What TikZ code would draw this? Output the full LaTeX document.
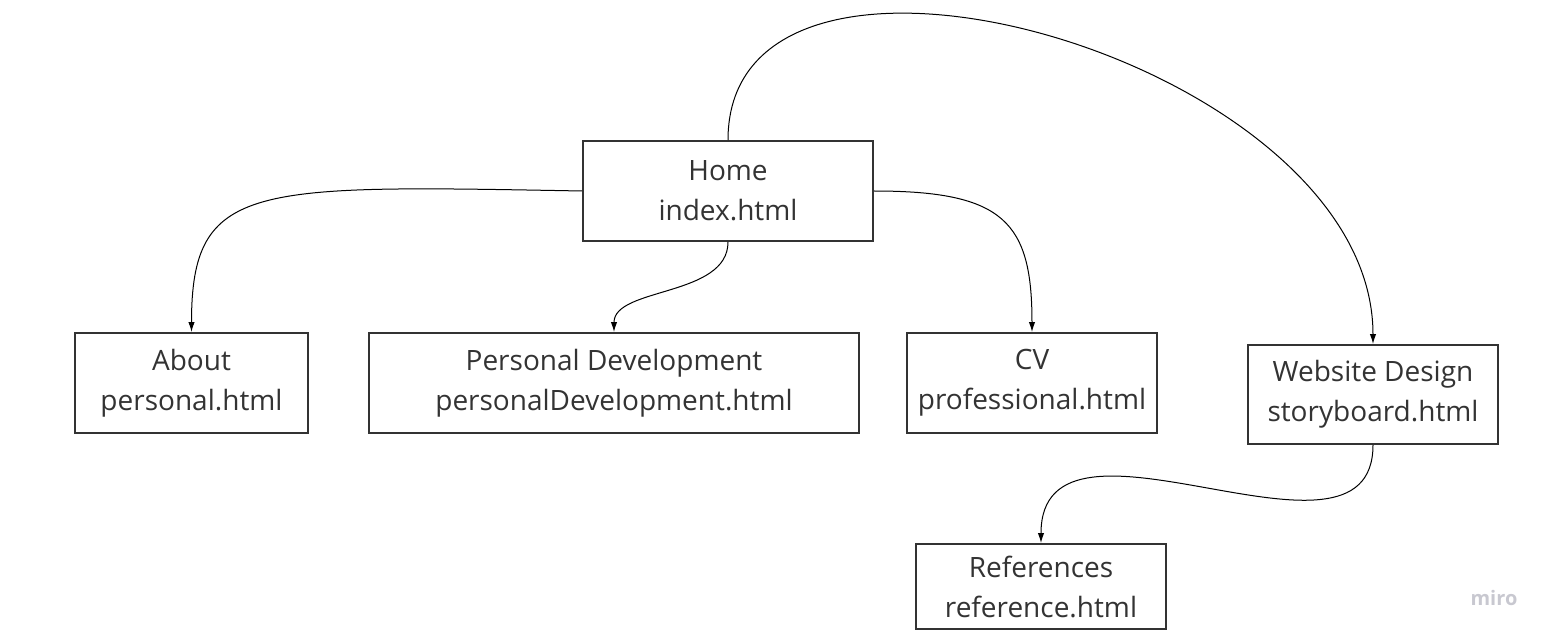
\documentclass[tikz,border=0pt]{standalone}
\usepackage{fontspec}
\setmainfont{Open Sans}
\usetikzlibrary{arrows.meta}
\definecolor{boxgray}{RGB}{51,51,51}
\definecolor{mirogray}{RGB}{200,200,208}

\begin{document}
\begin{tikzpicture}[x=0.5pt,y=0.5pt,yscale=-1,
  page/.style={draw=boxgray,line width=1pt,text=boxgray,align=center,inner sep=0pt,
    font=\fontsize{14}{20}\selectfont},
  link/.style={line width=0.5pt,-{Latex[length=5pt,width=3.2pt]}}]
\useasboundingbox (0,0) rectangle (1555,642);

%Shape: Rectangle [Home]
\node[page,minimum width=145pt,minimum height=50pt] (home) at (728,191) {Home\\index.html};
%Shape: Rectangle [About]
\node[page,minimum width=116.5pt,minimum height=50pt] (about) at (191.5,383) {About\\personal.html};
%Shape: Rectangle [Personal Development]
\node[page,minimum width=245pt,minimum height=50pt] (persdev) at (614,383) {Personal Development\\personalDevelopment.html};
%Shape: Rectangle [CV]
\node[page,minimum width=125pt,minimum height=50pt] (cv) at (1032,383) {CV\\professional.html};
%Shape: Rectangle [Website Design]
\node[page,minimum width=125pt,minimum height=49.5pt] (design) at (1373,394.5) {Website Design\\storyboard.html};
%Shape: Rectangle [References]
\node[page,minimum width=125pt,minimum height=42.5pt] (refs) at (1041,586.5) {References\\reference.html};

%Curves
\draw[link] (home.west) .. controls +(-330,-6) and +(0,-150) .. (about.north);
\draw[link] (home.south) .. controls +(0,55) and +(0,-45) .. (persdev.north);
\draw[link] (home.east) .. controls +(130,0) and +(0,-110) .. (cv.north);
\draw[link] (home.north) .. controls +(0,-261) and +(0,-285) .. (design.north);
\draw[link] (design.south) .. controls +(0,146) and +(0,-159) .. (refs.north);

% Text Node
\node[text=mirogray,font=\fontsize{10}{12}\selectfont\bfseries] (miro) at (1494,598) {miro};

\end{tikzpicture}
\end{document}
